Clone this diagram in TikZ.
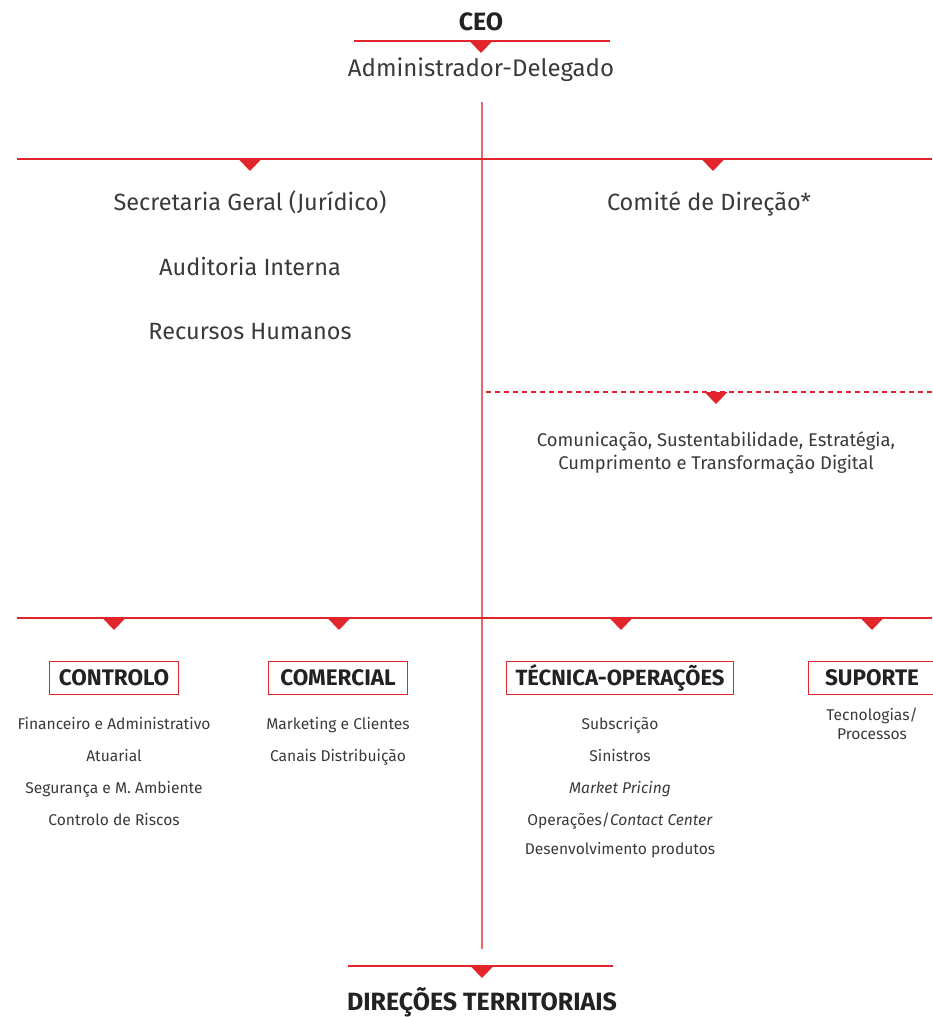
\documentclass[tikz,border=0pt]{standalone}
\usepackage{fontspec}
\setmainfont{Fira Sans}
\definecolor{brandred}{HTML}{E2252B}
\definecolor{spinered}{HTML}{E56B6B}
\definecolor{inkgray}{HTML}{3A3A3A}
\definecolor{inkdark}{HTML}{222222}
\begin{document}
\begin{tikzpicture}[x=1pt,y=-1pt,
  rule/.style={draw=brandred, line width=1.3pt},
  spine/.style={draw=spinered, line width=1.1pt},
  dashrule/.style={draw=brandred, line width=1.2pt, dash pattern=on 5pt off 4pt},
  pointer/.pic={\fill[brandred] (-11.5,0) -- (11.5,0) -- (0,12) -- cycle;},
  title/.style={anchor=base, font=\bfseries\fontsize{25}{28}\selectfont, text=inkdark, inner sep=0pt},
  head/.style={anchor=base, font=\fontsize{23.5}{28}\selectfont, text=inkgray, inner sep=0pt},
  mid/.style={anchor=base, font=\fontsize{18.4}{22}\selectfont, text=inkgray, inner sep=0pt},
  item/.style={anchor=base, font=\fontsize{15.6}{18}\selectfont, text=inkgray, inner sep=0pt},
  unit/.style={draw=brandred, line width=1pt, minimum height=33pt, inner xsep=9.5pt,
    font=\bfseries\fontsize{22.5}{24}\selectfont, text=inkdark}
]
\useasboundingbox (0,0) rectangle (932,1017);

% top: CEO
\node[title] (ceo) at (481,30) {CEO};
\coordinate (ceoL) at (354,41);
\coordinate (ceoR) at (610,41);
\draw[rule] (ceoL) -- (ceoR);
\pic at (481,41) {pointer};
\node[head, font=\fontsize{24}{28}\selectfont] (ad) at (481,76) {Administrador-Delegado};

% central spine
\coordinate (spineTop) at (482,102);
\coordinate (spineBot) at (482,949);
\draw[spine] (spineTop) -- (spineBot);

% first level
\coordinate (l1L) at (17,159);
\coordinate (l1R) at (932,159);
\draw[rule] (l1L) -- (l1R);
\pic at (250,159) {pointer};
\pic at (713,159) {pointer};

\node[head] (sg) at (250,210) {Secretaria Geral (Jurídico)};
\node[head] (ai) at (250,275) {Auditoria Interna};
\node[head] (rh) at (250,339) {Recursos Humanos};
\node[head] (cd) at (709,210) {Comité de Direção*};

% functional reporting (dashed)
\coordinate (dL) at (486,392);
\coordinate (dR) at (932,392);
\draw[dashrule] (dL) -- (dR);
\pic at (716,392) {pointer};
\node[mid] (com1) at (716,446) {Comunicação, Sustentabilidade, Estratégia,};
\node[mid] (com2) at (716,469) {Cumprimento e Transformação Digital};

% second level
\coordinate (l2L) at (17,618);
\coordinate (l2R) at (932,618);
\draw[rule] (l2L) -- (l2R);
\foreach \px in {114,339,621,872} \pic at (\px,618) {pointer};

\node[unit] (ctl) at (114,678) {CONTROLO};
\node[unit, inner xsep=11.5pt] (cml) at (338,678) {COMERCIAL};
\node[unit, font=\bfseries\fontsize{22}{24}\selectfont] (tec) at (620,678) {TÉCNICA-OPERAÇÕES};
\node[unit, inner xsep=17pt] (sup) at (872,678) {SUPORTE};

\node[item] (c1) at (114,729) {Financeiro e Administrativo};
\node[item] (c2) at (114,761) {Atuarial};
\node[item] (c3) at (114,793) {Segurança e M. Ambiente};
\node[item] (c4) at (114,825) {Controlo de Riscos};

\node[item] (m1) at (338,729) {Marketing e Clientes};
\node[item] (m2) at (338,761) {Canais Distribuição};

\node[item] (t1) at (620,729) {Subscrição};
\node[item] (t2) at (620,761) {Sinistros};
\node[item] (t3) at (620,793) {\itshape Market Pricing};
\node[item] (t4) at (620,825) {Operações/\textit{Contact Center}};
\node[item] (t5) at (620,854) {Desenvolvimento produtos};

\node[item] (s1) at (872,720) {Tecnologias/};
\node[item] (s2) at (872,739) {Processos};

% bottom: territorial directorates
\coordinate (bL) at (348,966);
\coordinate (bR) at (613,966);
\draw[rule] (bL) -- (bR);
\pic at (482,966) {pointer};
\node[title] (dt) at (482,1010) {DIREÇÕES TERRITORIAIS};
\end{tikzpicture}
\end{document}
